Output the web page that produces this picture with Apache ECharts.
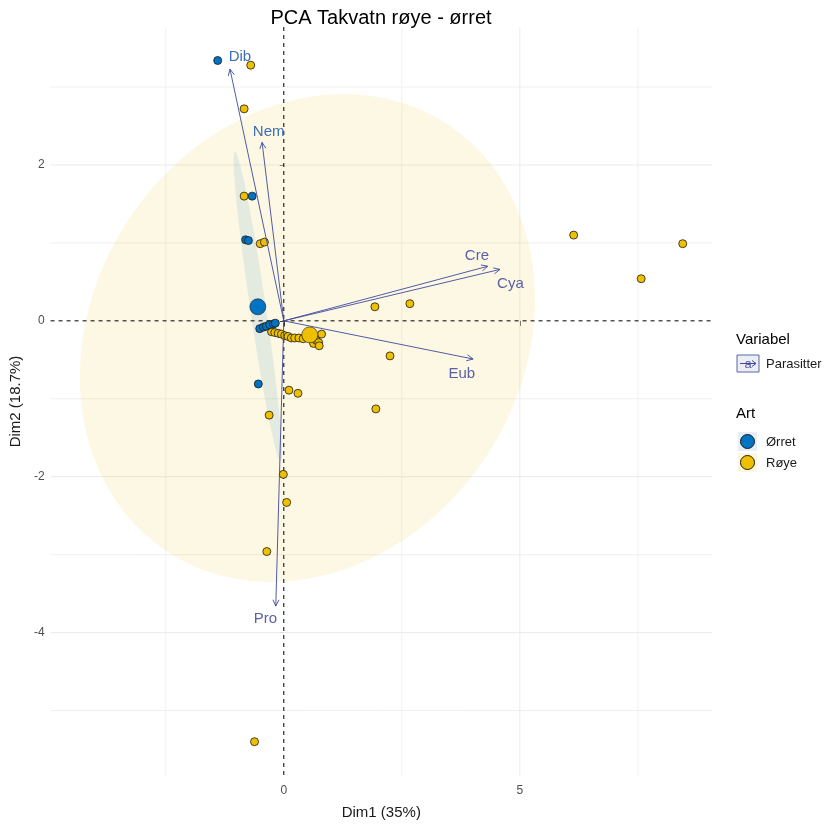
<!DOCTYPE html>
<html>
<head>
<meta charset="utf-8">
<script src="https://cdn.jsdelivr.net/npm/echarts@6/dist/echarts.min.js"></script>
<style>
  html, body { margin: 0; padding: 0; background: #ffffff; }
  #chart { width: 824px; height: 825px; }
</style>
</head>
<body>
<div id="chart"></div>
<script>
// Axis breaks
const xTicks = [0, 5];
const xMinor = [-2.5, 2.5, 7.5];
const yTicks = [-4, -2, 0, 2];
const yMinor = [-5, -3, -1, 1, 3];

// Individuals (scores on Dim1 / Dim2)
const orretPoints = [
  [-1.40, 3.34], [-0.67, 1.60], [-0.81, 1.04], [-0.75, 1.03], [-0.54, -0.81],
  [-0.51, -0.10], [-0.43, -0.08], [-0.37, -0.07], [-0.30, -0.05], [-0.22, -0.04], [-0.18, -0.03]
];
const royePoints = [
  [-0.70, 3.28], [-0.84, 2.72], [-0.84, 1.60], [-0.50, 0.99], [-0.41, 1.01],
  [6.14, 1.10], [8.45, 0.99], [7.57, 0.54], [2.67, 0.22], [1.93, 0.18],
  [2.25, -0.45], [1.95, -1.13], [0.11, -0.89], [0.30, -0.93], [-0.31, -1.21],
  [-0.01, -1.97], [0.06, -2.33], [-0.36, -2.96], [-0.62, -5.40],
  [-0.26, -0.14], [-0.19, -0.15], [-0.12, -0.16], [-0.05, -0.17], [0.02, -0.19],
  [0.09, -0.20], [0.16, -0.22], [0.23, -0.22], [0.32, -0.22], [0.41, -0.23],
  [0.48, -0.21], [0.63, -0.29], [0.69, -0.25], [0.74, -0.28], [0.75, -0.32], [0.80, -0.17]
];

// Group means
const orretMean = [-0.55, 0.18];
const royeMean = [0.55, -0.18];

// Confidence ellipses: centre, then two conjugate half-axis vectors (data units)
const orretEllipse = [-0.55, 0.18, 0.485, -1.989, 0.165, 0.015];
const royeEllipse = [0.50, -0.22, 4.82, 0.497, 0.0, 3.09];

// Variables (parasites): loadings and label anchors
const varNames = ['Dib', 'Nem', 'Cre', 'Cya', 'Eub', 'Pro'];
const varX = [-1.14, -0.46, 4.32, 4.58, 4.01, -0.17];
const varY = [3.23, 2.29, 0.70, 0.66, -0.49, -3.66];
const labelX = [-0.93, -0.32, 4.09, 4.80, 3.77, -0.39];
const labelY = [3.39, 2.43, 0.84, 0.48, -0.68, -3.82];

const BLUE = '#0073C2';
const YELLOW = '#EFC000';
const ARROW = '#3f4a9e';
const FONT = '"Liberation Sans", Arial, sans-serif';

const chart = echarts.init(document.getElementById('chart'), null, { renderer: 'canvas' });

function gridRenderer(color, width, dash) {
  return function (params, api) {
    const cs = params.coordSys;
    const v = api.value(0);
    const vertical = api.value(1) === 0;
    let shape;
    if (vertical) {
      const px = api.coord([v, 0])[0];
      shape = { x1: px, y1: cs.y, x2: px, y2: cs.y + cs.height };
    } else {
      const py = api.coord([0, v])[1];
      shape = { x1: cs.x, y1: py, x2: cs.x + cs.width, y2: py };
    }
    return {
      type: 'line',
      shape: shape,
      style: { stroke: color, lineWidth: width, lineDash: dash || null }
    };
  };
}

function ellipseRenderer(fill) {
  return function (params, api) {
    const cx = api.value(0), cy = api.value(1);
    const ux = api.value(2), uy = api.value(3);
    const vx = api.value(4), vy = api.value(5);
    const pts = [];
    const n = 160;
    for (let i = 0; i <= n; i++) {
      const t = (i / n) * Math.PI * 2;
      const c = Math.cos(t), s = Math.sin(t);
      pts.push(api.coord([cx + ux * c + vx * s, cy + uy * c + vy * s]));
    }
    return { type: 'polygon', shape: { points: pts }, style: { fill: fill, stroke: null } };
  };
}

function arrowRenderer(params, api) {
  const o = api.coord([0, 0]);
  const p = api.coord([api.value(0), api.value(1)]);
  const ang = Math.atan2(p[1] - o[1], p[0] - o[0]);
  const L = 7, a = Math.PI / 7;
  const h1 = [p[0] - L * Math.cos(ang - a), p[1] - L * Math.sin(ang - a)];
  const h2 = [p[0] - L * Math.cos(ang + a), p[1] - L * Math.sin(ang + a)];
  const style = { stroke: ARROW, lineWidth: 1, fill: null, opacity: 0.9 };
  return {
    type: 'group',
    children: [
      { type: 'line', shape: { x1: o[0], y1: o[1], x2: p[0], y2: p[1] }, style: style },
      { type: 'polyline', shape: { points: [h1, p, h2] }, style: style }
    ]
  };
}

const labelColour = { Dib: '#3d6db3', Nem: '#3d6db3' };

const gridMajor = xTicks.map(v => [v, 0]).concat(yTicks.map(v => [v, 1]));
const gridMinorData = xMinor.map(v => [v, 0]).concat(yMinor.map(v => [v, 1]));

const option = {
  animation: false,
  backgroundColor: '#ffffff',
  textStyle: { fontFamily: FONT },
  grid: { left: 48, right: 112, top: 27, bottom: 46, containLabel: false },
  xAxis: {
    type: 'value', min: -4.94, max: 9.07,
    axisLine: { show: false },
    splitLine: { show: false },
    axisTick: { show: true, customValues: xTicks, length: 5, lineStyle: { color: '#333333', width: 1 } },
    axisLabel: { customValues: xTicks, color: '#4d4d4d', fontSize: 12, margin: 9, fontFamily: FONT },
    name: 'Dim1 (35%)', nameLocation: 'middle', nameGap: 29,
    nameTextStyle: { fontSize: 15, color: '#1a1a1a', fontFamily: FONT }
  },
  yAxis: {
    type: 'value', min: -5.84, max: 3.77,
    axisLine: { show: false },
    splitLine: { show: false },
    axisTick: { show: true, customValues: yTicks, length: 4, lineStyle: { color: '#333333', width: 1 } },
    axisLabel: { customValues: yTicks, color: '#4d4d4d', fontSize: 12, margin: 6, fontFamily: FONT },
    name: 'Dim2 (18.7%)', nameLocation: 'middle', nameGap: 22, nameRotate: 90,
    nameTextStyle: { fontSize: 15, color: '#1a1a1a', fontFamily: FONT }
  },
  series: [
    { type: 'custom', z: 1, silent: true, data: gridMinorData, renderItem: gridRenderer('#f0f0f0', 1) },
    { type: 'custom', z: 1, silent: true, data: gridMajor.filter(d => d[0] !== 0), renderItem: gridRenderer('#ebebeb', 1) },
    { type: 'custom', z: 2, silent: true, data: [royeEllipse], renderItem: ellipseRenderer('rgba(239,192,0,0.11)') },
    { type: 'custom', z: 3, silent: true, data: [orretEllipse], renderItem: ellipseRenderer('rgba(0,115,194,0.10)') },
    { type: 'custom', z: 4, silent: true, data: [[0, 0], [0, 1]], renderItem: gridRenderer('#000000', 1, [4, 4]) },
    {
      name: 'Røye', type: 'scatter', z: 5, data: royePoints, symbolSize: 8,
      itemStyle: { color: YELLOW, borderColor: '#1a1a1a', borderWidth: 0.8, opacity: 1 }
    },
    {
      name: 'Ørret', type: 'scatter', z: 5, data: orretPoints, symbolSize: 8,
      itemStyle: { color: BLUE, borderColor: '#1a1a1a', borderWidth: 0.8, opacity: 1 }
    },
    {
      type: 'scatter', z: 6, data: [orretMean], symbolSize: 16,
      itemStyle: { color: BLUE, borderColor: '#1a1a1a', borderWidth: 0.6, opacity: 1 }
    },
    {
      type: 'scatter', z: 6, data: [royeMean], symbolSize: 16,
      itemStyle: { color: YELLOW, borderColor: '#1a1a1a', borderWidth: 0.6, opacity: 1 }
    },
    {
      type: 'custom', z: 7, silent: true,
      data: varNames.map((n, i) => [varX[i], varY[i]]),
      renderItem: arrowRenderer
    },
    {
      type: 'scatter', z: 8, silent: true, symbolSize: 1,
      itemStyle: { color: 'rgba(0,0,0,0)', opacity: 1 },
      data: varNames.map((n, i) => ({
        name: n, value: [labelX[i], labelY[i]],
        label: { color: labelColour[n] || '#5c60a6' }
      })),
      label: {
        show: true, position: 'inside', formatter: '{b}',
        fontSize: 15, fontFamily: FONT
      }
    }
  ],
  graphic: [
    { type: 'text', x: 381, y: 18, silent: true,
      style: { text: 'PCA Takvatn røye - ørret', fontSize: 20, fontFamily: FONT, fill: '#000000', align: 'center', verticalAlign: 'middle' } },
    // Legend: variables
    { type: 'text', x: 736, y: 340, silent: true,
      style: { text: 'Variabel', fontSize: 15, fontFamily: FONT, fill: '#000000', verticalAlign: 'middle' } },
    { type: 'rect', shape: { x: 737, y: 355, width: 22, height: 17 }, silent: true,
      style: { fill: '#eceef4', stroke: '#5866aa', lineWidth: 1 } },
    { type: 'text', x: 748, y: 364, silent: true,
      style: { text: 'a', fontSize: 13, fontFamily: FONT, fill: '#5c60a6', align: 'center', verticalAlign: 'middle' } },
    { type: 'polyline', shape: { points: [[740, 363.5], [756, 363.5]] }, silent: true,
      style: { stroke: ARROW, lineWidth: 1, fill: null } },
    { type: 'polyline', shape: { points: [[752, 360.5], [756, 363.5], [752, 366.5]] }, silent: true,
      style: { stroke: ARROW, lineWidth: 1, fill: null } },
    { type: 'text', x: 766, y: 364, silent: true,
      style: { text: 'Parasitter', fontSize: 13, fontFamily: FONT, fill: '#1a1a1a', verticalAlign: 'middle' } },
    // Legend: species
    { type: 'text', x: 736, y: 414, silent: true,
      style: { text: 'Art', fontSize: 15, fontFamily: FONT, fill: '#000000', verticalAlign: 'middle' } },
    { type: 'rect', shape: { x: 738, y: 432, width: 19, height: 19 }, silent: true,
      style: { fill: '#e6eff7' } },
    { type: 'rect', shape: { x: 738, y: 453, width: 19, height: 19 }, silent: true,
      style: { fill: '#fdf7df' } },
    { type: 'circle', shape: { cx: 747.5, cy: 441.5, r: 7 }, silent: true,
      style: { fill: BLUE, stroke: '#1a1a1a', lineWidth: 1 } },
    { type: 'circle', shape: { cx: 747.5, cy: 462.5, r: 7 }, silent: true,
      style: { fill: YELLOW, stroke: '#1a1a1a', lineWidth: 1 } },
    { type: 'text', x: 766, y: 442, silent: true,
      style: { text: 'Ørret', fontSize: 13, fontFamily: FONT, fill: '#1a1a1a', verticalAlign: 'middle' } },
    { type: 'text', x: 766, y: 463, silent: true,
      style: { text: 'Røye', fontSize: 13, fontFamily: FONT, fill: '#1a1a1a', verticalAlign: 'middle' } }
  ]
};

chart.setOption(option);
</script>
</body>
</html>
